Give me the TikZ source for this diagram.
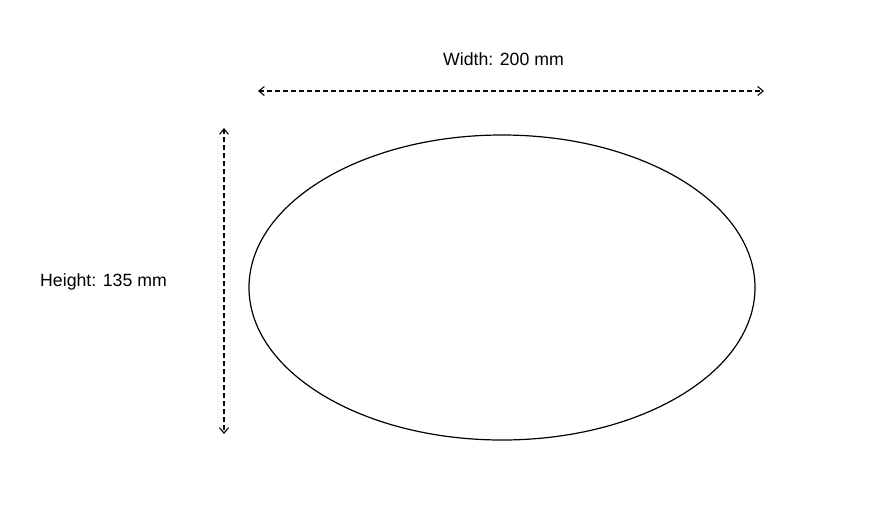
\documentclass[tikz,border=0pt]{standalone}
\usepackage{fontspec}
\setmainfont{Liberation Sans}
\usetikzlibrary{arrows.meta,shapes.geometric}
\begin{document}
\begin{tikzpicture}[x=1pt,y=-1pt,
  dimline/.style={draw=black,line width=1.1pt,dash pattern=on 5pt off 3pt,{Straight Barb[length=5.5pt,width=9pt]}-{Straight Barb[length=5.5pt,width=9pt]}},
  lbl/.style={font=\fontsize{17.7}{20}\selectfont,inner sep=0pt,text=black}]
\useasboundingbox (0,0) rectangle (869,504);
\node[draw=black,line width=1.2pt,ellipse,minimum width=506pt,minimum height=305pt,inner sep=0pt] (oval) at (502,287.5) {};
\coordinate (wl) at (258,91);
\coordinate (wr) at (764,91);
\coordinate (ht) at (224,128);
\coordinate (hb) at (224,434);
\draw[dimline] (wl) -- (wr);
\draw[dimline] (ht) -- (hb);
\node[lbl] (wlabel) at (503.5,59) {Width: 200 mm};
\node[lbl] (hlabel) at (103.5,282) {Height: 135 mm};
\end{tikzpicture}
\end{document}
